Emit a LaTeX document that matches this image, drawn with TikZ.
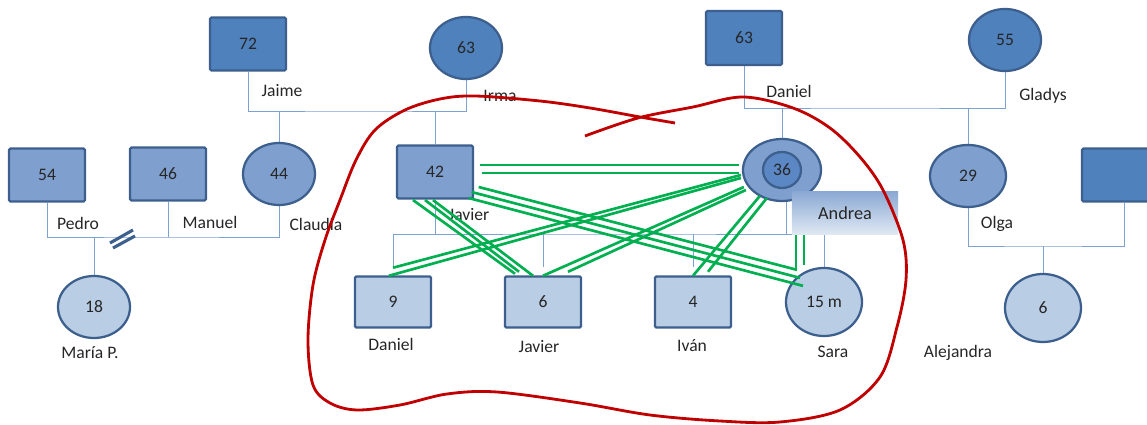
\documentclass[tikz,border=0pt]{standalone}
\usepackage{fontspec}
\setmainfont{Carlito}
\usetikzlibrary{shapes.geometric,backgrounds}

\definecolor{deepblue}{HTML}{4F81BD}
\definecolor{midblue}{HTML}{7FA0CF}
\definecolor{paleblue}{HTML}{B9CDE5}
\definecolor{ringblue}{HTML}{5B87C4}
\definecolor{edgeblue}{HTML}{3C5F8D}
\definecolor{tieblue}{HTML}{7EA1D3}
\definecolor{clashgreen}{HTML}{00B050}
\definecolor{loopred}{HTML}{C00000}
\definecolor{ink}{HTML}{262626}

\tikzset{
    man/.style={draw=edgeblue, line width=1.6pt, rounded corners=1pt, minimum width=1.9cm,
        minimum height=1.32cm, inner sep=0pt, text=ink, font=\fontsize{12.5}{14}\selectfont},
    woman/.style={ellipse, draw=edgeblue, line width=1.6pt, minimum width=1.8cm,
        minimum height=1.55cm, inner sep=0pt, text=ink, font=\fontsize{12.5}{14}\selectfont},
    tag/.style={text=ink, font=\fontsize{12.5}{14}\selectfont, inner sep=0pt},
    tie/.style={tieblue, line width=0.7pt},
    clash/.style={clashgreen, line width=1.9pt},
}

\begin{document}
\begin{tikzpicture}[x=0.025cm, y=-0.025cm]

    \useasboundingbox (0,0) rectangle (1147,425);

    %grandparents
    \node[man, fill=deepblue] (jaime) at (248,44) {72};
    \node[woman, fill=deepblue] (irma) at (466,48) {63};
    \node[man, fill=deepblue, minimum height=1.35cm] (danielsr) at (744,38) {63};
    \node[woman, fill=deepblue] (gladys) at (1005,40) {55};
    %parents
    \node[man, fill=midblue] (pedro) at (47,175) {54};
    \node[man, fill=midblue] (manuel) at (168,174) {46};
    \node[woman, fill=midblue] (claudia) at (279,174) {44};
    \node[man, fill=midblue] (javier) at (435,172) {42};
    \node[woman, fill=midblue, minimum width=1.95cm] (andrea) at (782,170) {};
    \node[woman, fill=ringblue, minimum width=0.95cm, minimum height=0.9cm] (ring) at (andrea) {36};
    \node[woman, fill=midblue, minimum width=1.9cm] (olga) at (968,176) {29};
    \node[man, fill=deepblue] (olgapartner) at (1120,175) {};
    %children
    \node[woman, fill=paleblue] (mariap) at (94,307) {18};
    \node[man, fill=paleblue, minimum height=1.28cm] (daniel) at (393,302) {9};
    \node[man, fill=paleblue, minimum height=1.28cm] (javierjr) at (543,302) {6};
    \node[man, fill=paleblue, minimum height=1.28cm] (ivan) at (693,302) {4};
    \node[woman, fill=paleblue, minimum width=1.9cm, minimum height=1.7cm] (sara) at (824,302) {15 m};
    \node[woman, fill=paleblue, minimum width=1.9cm, minimum height=1.7cm] (alejandra) at (1043,308) {6};

    \node[tag, top color=midblue!80!paleblue, bottom color=paleblue!45, minimum width=2.65cm,
        minimum height=1.05cm, font=\fontsize{13}{15}\selectfont] (andreatag) at (845,213) {Andrea};

    %names
    \node[tag] (lbljaime) at (282,91) {Jaime};
    \node[tag] (lblirma) at (500,96) {Irma};
    \node[tag] (lbldanielsr) at (789,91) {Daniel};
    \node[tag] (lblgladys) at (1043,96) {Gladys};
    \node[tag] (lblpedro) at (78,223) {Pedro};
    \node[tag] (lblmanuel) at (210,222) {Manuel};
    \node[tag] (lblclaudia) at (316,224) {Claudia};
    \node[tag] (lbljavier) at (469,215) {Javier};
    \node[tag] (lblolga) at (997,224) {Olga};
    \node[tag] (lblmariap) at (90,353) {María P.};
    \node[tag] (lbldaniel) at (391,344) {Daniel};
    \node[tag] (lbljavierjr) at (539,347) {Javier};
    \node[tag] (lblivan) at (692,346) {Iván};
    \node[tag] (lblsara) at (833,352) {Sara};
    \node[tag] (lblalejandra) at (958,353) {Alejandra};

    %family lines
    \begin{pgfonlayer}{background}
        \coordinate (jm) at (360,111);
        \draw[tie] (jaime.south) |- (jm) -| (irma.south);
        \foreach \kid in {claudia, javier} {
            \draw[tie] (\kid.north) -- (\kid.north |- jm);
        }
        \coordinate (dg) at (875,108);
        \draw[tie] (danielsr.south) |- (dg) -| (gladys.south);
        \foreach \kid in {andrea, olga} {
            \draw[tie] (\kid.north) -- (\kid.north |- dg);
        }
        \coordinate (pm) at (160,237);
        \draw[tie] (pedro.south) |- (pm) -| (claudia.south);
        \foreach \kid/\side in {manuel/south, mariap/north} {
            \draw[tie] (\kid.\side) -- (\kid.\side |- pm);
        }
        \coordinate (jb) at (610,234);
        \draw[tie] ([yshift=5pt]daniel.north) |- (jb) -| (sara.north);
        \draw[tie] (javier.south) -- (javier.south |- jb);
        \draw[tie] ([xshift=3pt]andrea.south) -- ([xshift=3pt]andrea.south |- jb);
        \foreach \kid in {javierjr, ivan} {
            \draw[tie] ([yshift=6pt]\kid.north) -- (\kid.north |- jb);
        }
        \coordinate (op) at (1040,246);
        \draw[tie] (olga.south) |- (op) -| ([xshift=3.5pt]olgapartner.south);
        \draw[tie] (alejandra.north) -- (alejandra.north |- op);
    \end{pgfonlayer}

    %divorce
    \coordinate (split) at (122,239);
    \draw[edgeblue, line width=2.2pt] ([shift={(-12,4)}]split) -- ([shift={(11,-9)}]split)
        ([shift={(-9,9)}]split) -- ([shift={(13,-3)}]split);

    %conflicts
    \draw[clash] ([shift={(5.5,-7)}]javier.east) -- ([shift={(-3,-5)}]andrea.west);
    \draw[clash] ([shift={(7.5,1)}]javier.east) -- ([shift={(-3,3)}]andrea.west);
    \draw[clash] ([shift={(-1,5)}]andrea.west) -- ([shift={(0,-7.5)}]daniel.north);
    \draw[clash] ([shift={(-1,8)}]andrea.west) -- ([shift={(-4,0.5)}]daniel.north);
    \draw[clash] ([shift={(2,17)}]andrea.west) -- ([shift={(0,0.5)}]javierjr.north);
    \draw[clash] ([shift={(4,20)}]andrea.west) -- ([shift={(25,-3.5)}]javierjr.north);
    \draw[clash] ([shift={(18,26)}]andrea.west) -- ([shift={(0,0.5)}]ivan.north);
    \draw[clash] ([shift={(25,28)}]andrea.west) -- ([shift={(15,-3.5)}]ivan.north);
    \draw[clash] ([shift={(-22,0.5)}]javier.south) -- ([shift={(-28,-1.5)}]javierjr.north);
    \draw[clash] ([shift={(-10,0.5)}]javier.south) -- ([shift={(-24,-3.5)}]javierjr.north);
    \draw[clash] ([shift={(-2,0.5)}]javier.south) -- ([shift={(-10,0.5)}]javierjr.north);
    \draw[clash] ([shift={(4.5,15)}]javier.east) -- ([shift={(-27,3)}]sara.north);
    \draw[clash] ([shift={(-2.5,-7.5)}]javier.south east) -- ([shift={(-24,11)}]sara.north);
    \draw[clash] ([shift={(-5.5,-1.5)}]javier.south east) -- ([shift={(-21,19)}]sara.north);
    \draw[clash] ([shift={(-49,1)}]andreatag.south) -- ([shift={(-28,2)}]sara.north);
    \draw[clash] ([shift={(-41,1)}]andreatag.south) -- ([shift={(-20,-2)}]sara.north);

    %household
    \draw[loopred, line width=2pt] plot[smooth, tension=0.55] coordinates {
        (675,123) (640,117) (590,108) (540,101) (475,96) (440,99) (405,110) (375,130)
        (356,160) (340,200) (325,240) (313,285) (308,340) (313,385) (330,403) (357,410)
        (400,405) (447,394) (497,392) (580,403) (650,415) (720,421) (780,422) (840,410)
        (880,377) (897,327) (906,280) (903,240) (883,190) (860,157) (830,128) (793,108)
        (743,97) (693,107) (638,118) (585,136)};

\end{tikzpicture}
\end{document}
